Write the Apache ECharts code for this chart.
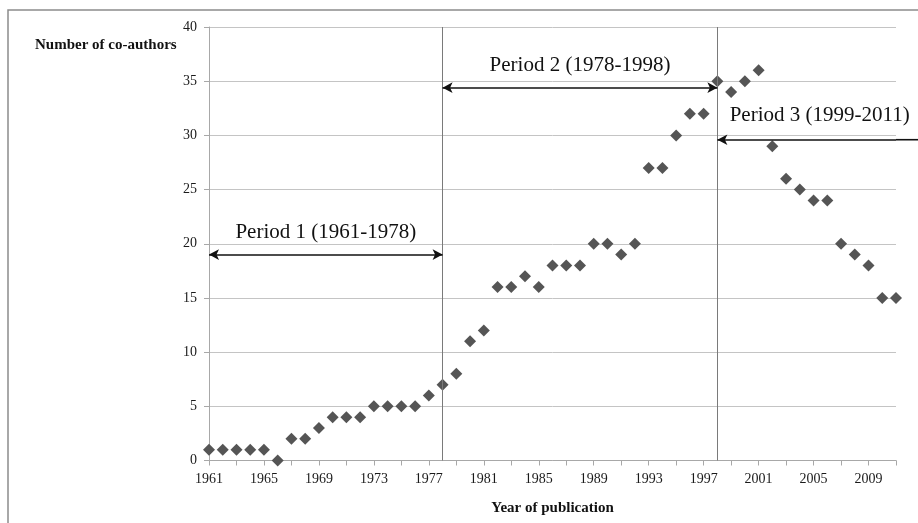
<!DOCTYPE html>
<html><head><meta charset="utf-8">
<script src="https://cdn.jsdelivr.net/npm/echarts@6/dist/echarts.min.js"></script>
<style>html,body{margin:0;padding:0;background:#fff}#c{width:918px;height:523px}</style>
</head><body><div id="c"></div>
<script>
const years = ['1961','1962','1963','1964','1965','1966','1967','1968','1969','1970',
  '1971','1972','1973','1974','1975','1976','1977','1978','1979','1980',
  '1981','1982','1983','1984','1985','1986','1987','1988','1989','1990',
  '1991','1992','1993','1994','1995','1996','1997','1998','1999','2000',
  '2001','2002','2003','2004','2005','2006','2007','2008','2009','2010','2011'];
const coauthors = [1,1,1,1,1,0,2,2,3,4,
  4,4,5,5,5,5,6,7,8,11,
  12,16,16,17,16,18,18,18,20,20,
  19,20,27,27,30,32,32,35,34,35,
  36,29,26,25,24,24,20,19,18,15,15];
const yMin = 0, yMax = 40, yStep = 5;
const dividers = ['1978', '1998'];
const periodLabels = ['Period 1 (1961-1978)', 'Period 2 (1978-1998)', 'Period 3 (1999-2011)'];
const periodFrom = ['1961', '1978', '1998'];
const periodTo = ['1978', '1998', '2011'];
const periodLevel = [19, 34.4, 29.6];
const yTitle = 'Number of co-authors';
const xTitle = 'Year of publication';

const serif = "'Liberation Serif','Times New Roman',serif";
const chart = echarts.init(document.getElementById('c'), null, {renderer: 'canvas'});

const dividerData = dividers.map(d => ({xAxis: d}));
const arrowData = periodLabels.map((lab, i) => {
  const open = i === 2;
  return [
    {coord: [periodFrom[i], periodLevel[i]], symbol: 'arrow', symbolSize: [8, 10],
     label: {show: true, formatter: lab, position: 'insideMiddleTop', distance: 12,
             offset: open ? [13, -2] : [0, 0],
             color: '#111', fontFamily: serif, fontSize: 21}},
    {coord: [periodTo[i], periodLevel[i]], symbol: open ? 'none' : 'arrow', symbolSize: [8, 10]}
  ];
});

chart.setOption({
  animation: false,
  backgroundColor: '#fff',
  grid: {left: 209, right: 22, top: 27, bottom: 62.5, containLabel: false},
  title: {
    text: yTitle, left: 30, top: 33,
    textStyle: {fontFamily: serif, fontSize: 15, fontWeight: 'bold', color: '#111'}
  },
  xAxis: {
    type: 'category', data: years, boundaryGap: false,
    name: xTitle, nameLocation: 'middle', nameGap: 40,
    nameTextStyle: {fontFamily: serif, fontSize: 15, fontWeight: 'bold', color: '#111'},
    axisLine: {lineStyle: {color: '#a8a8a8', width: 1}},
    axisTick: {show: true, interval: 1, length: 5, lineStyle: {color: '#a8a8a8'}},
    axisLabel: {interval: 3, margin: 12, fontFamily: serif, fontSize: 14, color: '#1a1a1a'},
    splitLine: {show: false}
  },
  yAxis: {
    type: 'value', min: yMin, max: yMax, interval: yStep,
    axisLine: {show: true, lineStyle: {color: '#a8a8a8', width: 1}},
    axisTick: {show: true, length: 5, lineStyle: {color: '#a8a8a8'}},
    axisLabel: {margin: 12, fontFamily: serif, fontSize: 14, color: '#1a1a1a'},
    splitLine: {show: true, lineStyle: {color: '#c4c4c4', width: 1}}
  },
  series: [{
    type: 'scatter', data: coauthors, symbol: 'diamond', symbolSize: 12,
    itemStyle: {color: '#555555', opacity: 1}, z: 3,
    markLine: {silent: true, animation: false, symbol: ['none', 'none'],
      label: {show: false},
      lineStyle: {color: '#7a7a7a', width: 1, type: 'solid'},
      data: dividerData}
  }, {
    type: 'scatter', data: [], z: 4,
    markLine: {silent: true, animation: false, precision: 1,
      lineStyle: {color: '#111', width: 1.6, type: 'solid'},
      data: arrowData}
  }]
});

// extend the open-ended Period 3 arrow to the picture edge
const endPt = chart.convertToPixel({xAxisIndex: 0, yAxisIndex: 0}, [periodTo[2], periodLevel[2]]);
const W = chart.getWidth(), H = chart.getHeight();
chart.setOption({
  graphic: [
    {type: 'line', silent: true, z: 10,
     shape: {x1: endPt[0], y1: endPt[1], x2: W, y2: endPt[1]},
     style: {stroke: '#111', lineWidth: 1.6}},
    {type: 'rect', silent: true, z: -1,
     shape: {x: 8, y: 10, width: W + 20, height: H + 20},
     style: {fill: 'none', stroke: '#8c8c8c', lineWidth: 1.5}}
  ]
});
</script></body></html>
